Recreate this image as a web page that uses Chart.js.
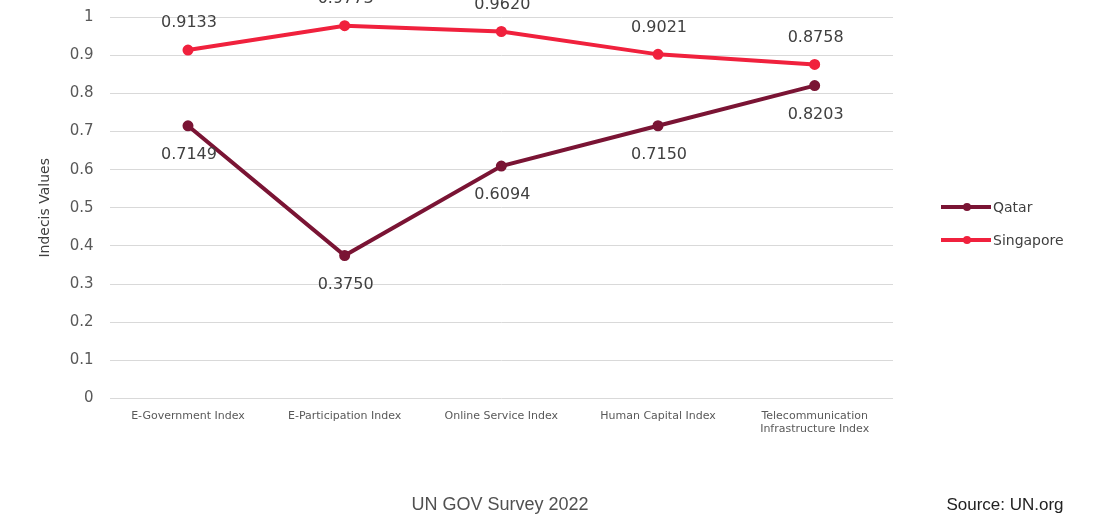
<!DOCTYPE html>
<html>
<head>
<meta charset="utf-8">
<script src="https://cdn.jsdelivr.net/npm/chart.js@4.4.1/dist/chart.umd.min.js"></script>
<style>
html,body{margin:0;padding:0;background:#fff;}
#wrap{width:1119px;height:518px;position:relative;}
</style>
</head>
<body>
<div id="wrap"><canvas id="c" width="1119" height="518"></canvas></div>
<script>
const categories = [
  "E-Government Index",
  "E-Participation Index",
  "Online Service Index",
  "Human Capital Index",
  ["Telecommunication", "Infrastructure Index"]
];
const qatarValues = [0.7149, 0.3750, 0.6094, 0.7150, 0.8203];
const singaporeValues = [0.9133, 0.9773, 0.9620, 0.9021, 0.8758];
const seriesNames = ["Qatar", "Singapore"];
const chartTitle = "UN GOV Survey 2022";
const sourceText = "Source: UN.org";
const yTitle = "Indecis Values";

const QATAR = "#7a1434";
const SING = "#f0213d";

const labelPlugin = {
  id: "labels",
  afterDatasetsDraw(chart) {
    const ctx = chart.ctx;
    ctx.save();
    ctx.font = "16px 'DejaVu Sans'";
    ctx.fillStyle = "#404040";
    ctx.textAlign = "center";
    ctx.textBaseline = "middle";
    chart.data.datasets.forEach((ds, i) => {
      const meta = chart.getDatasetMeta(i);
      meta.data.forEach((pt, j) => {
        const off = i === 1 ? -27 : 29;
        ctx.fillText(ds.data[j].toFixed(4), pt.x + 1, pt.y + off);
      });
    });
    ctx.restore();
  },
  afterDraw(chart) {
    const ctx = chart.ctx;
    ctx.save();
    // legend
    chart.data.datasets.forEach((ds, i) => {
      const y = 207 + i * 33;
      ctx.strokeStyle = ds.borderColor;
      ctx.lineWidth = 4;
      ctx.beginPath();
      ctx.moveTo(941, y);
      ctx.lineTo(991, y);
      ctx.stroke();
      ctx.fillStyle = ds.borderColor;
      ctx.beginPath();
      ctx.arc(967, y, 4, 0, Math.PI * 2);
      ctx.fill();
      ctx.fillStyle = "#404040";
      ctx.font = "14px 'DejaVu Sans'";
      ctx.textAlign = "left";
      ctx.textBaseline = "middle";
      ctx.fillText(ds.label, 993, y + 1);
    });
    // title and source
    ctx.fillStyle = "#505050";
    ctx.font = "18px 'Liberation Sans'";
    ctx.textAlign = "center";
    ctx.textBaseline = "middle";
    ctx.fillText(chartTitle, 500, 505);
    ctx.font = "17px 'Liberation Sans'";
    ctx.fillStyle = "#222";
    ctx.fillText(sourceText, 1005, 505);
    ctx.restore();
  }
};

new Chart(document.getElementById("c"), {
  type: "line",
  data: {
    labels: categories,
    datasets: [
      {
        label: seriesNames[0],
        data: qatarValues,
        borderColor: QATAR,
        backgroundColor: QATAR,
        borderWidth: 4,
        pointRadius: 3.5,
        pointHoverRadius: 3.5,
        tension: 0
      },
      {
        label: seriesNames[1],
        data: singaporeValues,
        borderColor: SING,
        backgroundColor: SING,
        borderWidth: 4,
        pointRadius: 3.5,
        pointHoverRadius: 3.5,
        tension: 0
      }
    ]
  },
  options: {
    responsive: false,
    animation: false,
    events: [],
    layout: { padding: { top: 17, right: 226, bottom: 71, left: 37 } },
    plugins: {
      legend: { display: false },
      tooltip: { enabled: false },
      title: { display: false }
    },
    scales: {
      x: {
        offset: true,
        grid: { display: false, drawTicks: false },
        border: { display: false },
        ticks: {
          font: { family: "'DejaVu Sans'", size: 11 },
          color: "#595959",
          maxRotation: 0,
          autoSkip: false,
          padding: 11
        }
      },
      y: {
        min: 0,
        max: 1,
        afterFit(scale) { scale.paddingTop = 0; scale.paddingBottom = 0; },
        ticks: {
          stepSize: 0.1,
          font: { family: "'DejaVu Sans'", size: 15 },
          color: "#595959",
          padding: 16,
          callback: (v) => String(Math.round(v * 10) / 10)
        },
        grid: { color: "#d9d9d9", lineWidth: 1, drawTicks: false },
        border: { display: false },
        title: {
          display: true,
          text: yTitle,
          font: { family: "'DejaVu Sans'", size: 14 },
          color: "#404040",
          padding: { top: 0, bottom: 0 }
        }
      }
    }
  },
  plugins: [labelPlugin]
});
</script>
</body>
</html>
